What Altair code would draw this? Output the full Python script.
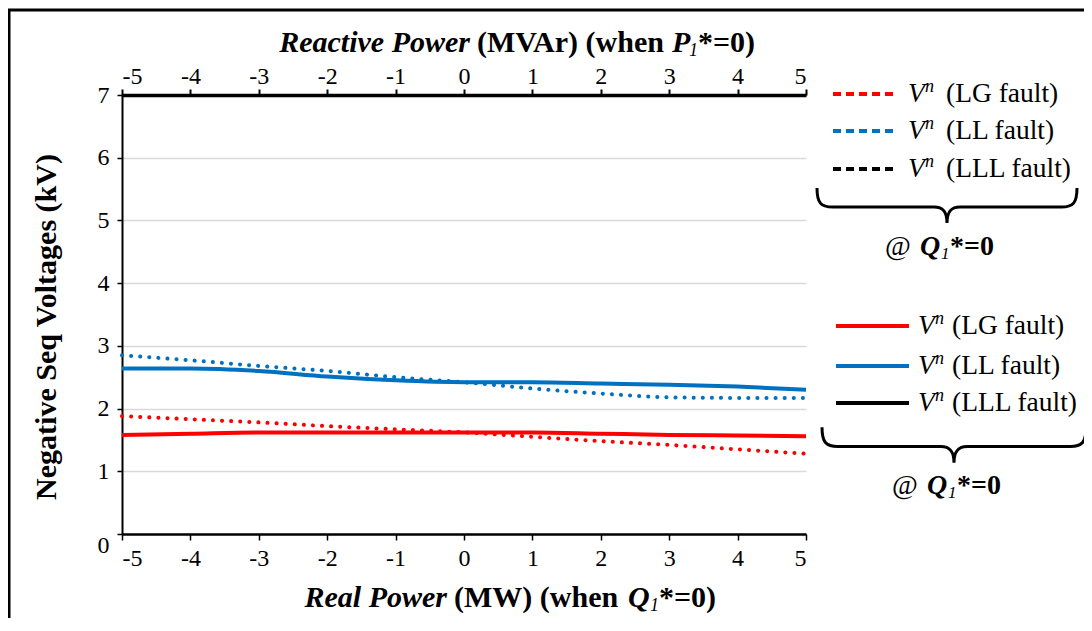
import altair as alt
import pandas as pd

# ---------------- data ----------------
x_vals = [-5, -4, -3, -2, -1, 0, 1, 2, 3, 4, 5]
lg_real = [1.58, 1.60, 1.62, 1.62, 1.62, 1.62, 1.62, 1.60, 1.58, 1.57, 1.56]
ll_real = [2.64, 2.64, 2.60, 2.51, 2.45, 2.42, 2.42, 2.40, 2.38, 2.35, 2.30]
lg_react = [1.88, 1.83, 1.78, 1.72, 1.67, 1.62, 1.55, 1.48, 1.42, 1.35, 1.28]
ll_react = [2.85, 2.77, 2.68, 2.60, 2.50, 2.42, 2.32, 2.24, 2.18, 2.17, 2.17]
x_ticks = [-5, -4, -3, -2, -1, 0, 1, 2, 3, 4, 5]
y_ticks = [0, 1, 2, 3, 4, 5, 6, 7]
series_names = ["LG", "LL", "LLL"]
series_colors = ["#FF0000", "#0070C0", "#000000"]
legend_labels = ["(LG fault)", "(LL fault)", "(LLL fault)"]

rows = []
for s, vals in (("LG", lg_real), ("LL", ll_real)):
    for xv, yv in zip(x_vals, vals):
        rows.append({"x": xv, "v": yv, "series": s, "kind": "real"})
for s, vals in (("LG", lg_react), ("LL", ll_react)):
    for xv, yv in zip(x_vals, vals):
        rows.append({"x": xv, "v": yv, "series": s, "kind": "react"})
df = pd.DataFrame(rows)

FONT = "Liberation Serif"
W, H = 684, 439
PAD_L, PAD_T = 114, 87
TOTAL_W, TOTAL_H = 1076, 610

LABEL_EXPR = "datum.value < 0 ? '-' + abs(datum.value) : '' + datum.value"

color = alt.Color("series:N", scale=alt.Scale(domain=series_names, range=series_colors), legend=None)


def y_enc():
    return alt.Y("v:Q", scale=alt.Scale(domain=[0, 7], nice=False),
                 axis=alt.Axis(values=y_ticks, title=None, grid=True, gridColor="#d9d9d9", gridWidth=1.5,
                               domainColor="black", domainWidth=2, tickColor="black", tickWidth=1.5,
                               tickSize=5, labelFont=FONT, labelFontSize=24, labelColor="black",
                               labelPadding=8, labelExpr=LABEL_EXPR,
                               labelOffset=alt.ExprRef("datum.value == 0 ? 11 : 0")))


def x_axis(orient, dw, tw, pad):
    return alt.Axis(values=x_ticks, title=None, grid=False, domainColor="black", domainWidth=dw,
                    tickColor="black", tickWidth=tw, tickSize=6, labelFont=FONT,
                    labelFontSize=24, labelColor="black", labelPadding=pad, orient=orient,
                    labelExpr=LABEL_EXPR)


solid = alt.Chart(df).transform_filter(alt.datum.kind == "real").mark_line(
    strokeWidth=4, interpolate="monotone").encode(
    x=alt.X("x:Q", scale=alt.Scale(domain=[-5, 5], nice=False), axis=x_axis("bottom", 2.5, 1.5, 6)),
    y=y_enc(), color=color, detail="series:N")

dotted = alt.Chart(df).transform_filter(alt.datum.kind == "react").mark_line(
    strokeWidth=4, strokeDash=[0.1, 9], strokeCap="round", interpolate="monotone").encode(
    x=alt.X("x:Q", scale=alt.Scale(domain=[-5, 5], nice=False), axis=x_axis("top", 3.5, 2, 1)),
    y=y_enc(), color=color, detail="series:N")

one = pd.DataFrame({"k": [0]})


def px(x):
    return x - PAD_L - 8


def py(y):
    return y - PAD_T - 8


def txt(s, x, y, size, weight="normal", style="normal", align="left", angle=0, baseline="middle"):
    kw = dict(text=s, font=FONT, fontSize=size, fontWeight=weight, fontStyle=style,
              align=align, baseline=baseline, color="black")
    if angle:
        kw["angle"] = angle
    return alt.Chart(one).mark_text(**kw).encode(x=alt.value(px(x)), y=alt.value(py(y)))


def seg(x1, x2, y, col, dash=None, width=4):
    kw = dict(color=col, strokeWidth=width)
    if dash:
        kw["strokeDash"] = dash
    return alt.Chart(one).mark_rule(**kw).encode(
        x=alt.value(px(x1)), x2=alt.value(px(x2)), y=alt.value(py(y)))


BRACE = ("M -1 -0.135 C -1 -0.02 -0.97 0.012 -0.88 0.012 L -0.1 0.012 "
         "C -0.03 0.012 0 0.05 0 0.135 C 0 0.05 0.03 0.012 0.1 0.012 "
         "L 0.88 0.012 C 0.97 0.012 1 -0.02 1 -0.135")


def brace(cx, cy, width):
    return alt.Chart(one).mark_point(shape=BRACE, filled=False, stroke="black", strokeWidth=3,
                                     opacity=1, size=width * width).encode(
        x=alt.value(px(cx)), y=alt.value(py(cy)))


layers = []
# frame (left and top)
layers.append(alt.Chart(one).mark_rule(color="black", strokeWidth=3).encode(
    x=alt.value(px(9)), y=alt.value(py(10)), y2=alt.value(py(700))))
layers.append(alt.Chart(one).mark_rule(color="black", strokeWidth=3).encode(
    x=alt.value(px(8)), x2=alt.value(px(1200)), y=alt.value(py(10))))

# axis titles
TS = 30
layers.append(txt("Reactive Power", 470, 43, TS, "bold", "italic", align="right"))
layers.append(txt("(MVAr) (when", 477, 43, TS, "bold"))
layers.append(txt("P", 672, 43, TS, "bold", "italic"))
layers.append(txt("1", 689, 51, 18, "normal", "italic"))
layers.append(txt("*=0)", 698, 43, TS, "bold"))

layers.append(txt("Real Power", 447, 598, TS, "bold", "italic", align="right"))
layers.append(txt("(MW) (when", 454, 598, TS, "bold"))
layers.append(txt("Q", 628, 598, TS, "bold", "italic"))
layers.append(txt("1", 650, 606, 18, "normal", "italic"))
layers.append(txt("*=0)", 659, 598, TS, "bold"))

layers.append(txt("Negative Seq Voltages (kV)", 47, 327, TS, "bold", align="center", angle=270))

# legend group 1 (dotted)
LS = 27.5


def vn(x, y):
    return [txt("V", x, y, LS, style="italic"), txt("n", x + 17, y - 7, 18, style="italic")]


g1_y = [94, 131, 169]
for s, c, yy, lab in zip(series_names, series_colors, g1_y, legend_labels):
    layers.append(seg(833, 898, yy, c, dash=[8, 5]))
    layers.extend(vn(908, yy))
    layers.append(txt(lab, 946, yy, LS))
layers.append(brace(947, 205.5, 260))
layers.append(txt("@", 885, 247, 28))
layers.append(txt("Q", 920, 247, 28, "bold", "italic"))
layers.append(txt("1", 941, 254, 17, "normal", "italic"))
layers.append(txt("*=0", 950, 247, 28, "bold"))

# legend group 2 (solid)
g2_y = [326, 366, 403]
for s, c, yy, lab in zip(series_names, series_colors, g2_y, legend_labels):
    layers.append(seg(836, 909, yy, c))
    layers.extend(vn(918, yy))
    layers.append(txt(lab, 952, yy, LS))
layers.append(brace(954, 445, 264))
layers.append(txt("@", 892, 486, 28))
layers.append(txt("Q", 927, 486, 28, "bold", "italic"))
layers.append(txt("1", 948, 493, 17, "normal", "italic"))
layers.append(txt("*=0", 957, 486, 28, "bold"))

base = alt.layer(solid, dotted).resolve_scale(x="independent").resolve_axis(x="independent")

chart = alt.layer(base, *layers).properties(
    width=W, height=H,
    autosize=alt.AutoSizeParams(type="none"),
    padding={"left": PAD_L, "top": PAD_T, "right": TOTAL_W - PAD_L - W, "bottom": TOTAL_H - PAD_T - H},
    background="white",
).configure_view(stroke=None)

chart.save("out.html", embed_options={"renderer": "svg", "actions": False})
